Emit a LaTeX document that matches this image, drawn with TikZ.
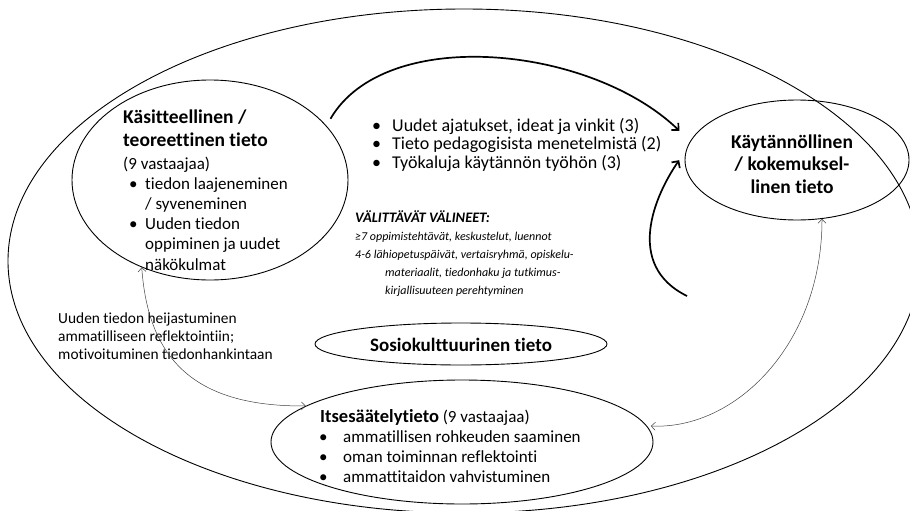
\documentclass[tikz,border=0pt]{standalone}
\usepackage{fontspec}
\setmainfont{Carlito}[Ligatures={NoCommon}]
\usetikzlibrary{shapes.geometric,arrows.meta}
\begin{document}
\begin{tikzpicture}[x=1pt, y=-1pt,
    blob/.style={ellipse, draw, line width=0.9pt, inner sep=0pt},
    body/.style={inner sep=0pt, anchor=base west, font=\fontsize{17}{20.3}\selectfont},
    note/.style={inner sep=0pt, anchor=base west, font=\fontsize{15.4}{18}\selectfont},
    head/.style={inner sep=0pt, anchor=base west, font=\fontsize{19.5}{23.7}\selectfont\bfseries},
    flow/.style={line width=1.7pt, -{Straight Barb[length=5pt,width=10pt]}},
    link/.style={line width=0.5pt, draw=black!75, {Straight Barb[length=4pt,width=8pt]}-{Straight Barb[length=4pt,width=8pt]}}]
    \useasboundingbox (0,0) rectangle (910,511);
    \clip (0,0) rectangle (910,511);
    % Ellipses
    \node[blob, minimum width=912, minimum height=504] (kehys) at (464,261) {};
    \node[blob, minimum width=276, minimum height=200] (konsepti) at (210,180) {};
    \node[blob, minimum width=224, minimum height=120] (kaytanto) at (797,160) {};
    \node[blob, minimum width=292, minimum height=42] (sosio) at (461,344) {};
    \node[blob, minimum width=382, minimum height=124] (itse) at (462,442) {};
    % Conceptual knowledge
    \node[head] (konseptiotsikko) at (123,123) {\begin{tabular}[t]{@{}l@{}}Käsitteellinen /\\teoreettinen tieto\end{tabular}};
    \node[body] (konseptimaara) at (123,169) {(9 vastaajaa)};
    \node[body] (konseptilista) at (129,189) {\begin{tabular}[t]{@{}p{16pt}@{}l@{}}
      •&tiedon laajeneminen\\&/ syveneminen\\•&Uuden tiedon\\&oppiminen ja uudet\\&näkökulmat\end{tabular}};
    % Practical knowledge
    \node[inner sep=0pt, anchor=base, font=\fontsize{19.5}{22.5}\selectfont\bfseries] (kaytantoteksti) at (792,148)
      {\begin{tabular}[t]{@{}c@{}}Käytännöllinen\\/ kokemuksel-\\linen tieto\end{tabular}};
    % Outcomes between the two
    \node[body, font=\fontsize{18}{18.5}\selectfont] (tulokset) at (372,131) {\begin{tabular}[t]{@{}p{20pt}@{}l@{}}
      •&Uudet ajatukset, ideat ja vinkit (3)\\•&Tieto pedagogisista menetelmistä (2)\\•&Työkaluja käytännön työhön (3)\end{tabular}};
    \node[note, font=\fontsize{12}{18.2}\selectfont\itshape] (valineet) at (355,222) {\begin{tabular}[t]{@{}l@{}}
      {\fontsize{14.5}{18.2}\selectfont\bfseries VÄLITTÄVÄT VÄLINEET:}\\≥7 oppimistehtävät, keskustelut, luennot\\4-6 lähiopetuspäivät, vertaisryhmä, opiskelu-\\
      \hspace*{30pt}materiaalit, tiedonhaku ja tutkimus-\\\hspace*{30pt}kirjallisuuteen perehtyminen\end{tabular}};
    % Sociocultural and self-regulative knowledge
    \node[inner sep=0pt, anchor=base, font=\fontsize{19}{21}\selectfont\bfseries] (sosioteksti) at (461,351) {Sosiokulttuurinen tieto};
    \node[body] (itseotsikko) at (320,422) {{\fontsize{18.5}{21}\selectfont\bfseries Itsesäätelytieto} (9 vastaajaa)};
    \node[body] (itselista) at (319,442) {\begin{tabular}[t]{@{}p{24pt}@{}l@{}}
      •&ammatillisen rohkeuden saaminen\\•&oman toiminnan reflektointi\\•&ammattitaidon vahvistuminen\end{tabular}};
    \node[note] (heijastus) at (58,323) {\begin{tabular}[t]{@{}l@{}}Uuden tiedon heijastuminen\\ammatilliseen reflektointiin;\\motivoituminen tiedonhankintaan\end{tabular}};
    % Thick arrows into practical knowledge
    \coordinate (valinealku) at (687,296);
    \draw[flow, shorten <=8pt, shorten >=15pt] (konsepti.25) .. controls (385,25) and (590,45) .. (kaytanto.170);
    \draw[flow, shorten >=12pt] (valinealku) .. controls (624,265) and (655,195) .. (kaytanto.175);
    % Thin two-way links
    \draw[link] (konsepti.232) .. controls (148,355) and (190,407) .. (itse.167);
    \draw[link, shorten >=4pt] (kaytanto.293) .. controls (822,345) and (735,430) .. (itse.5);
\end{tikzpicture}
\end{document}
